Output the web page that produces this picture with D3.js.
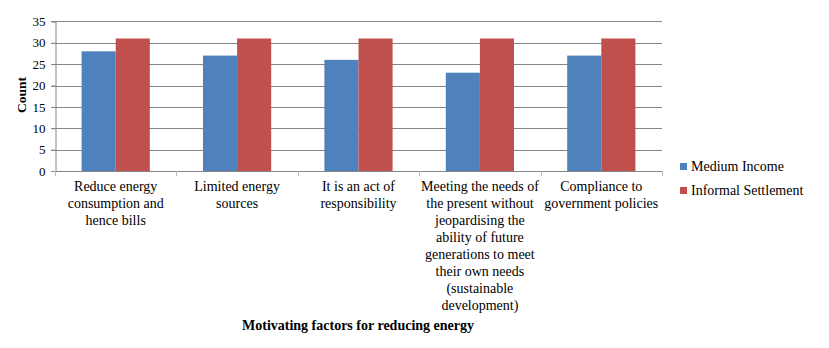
<!DOCTYPE html>
<html><head><meta charset="utf-8">
<script src="https://cdn.jsdelivr.net/npm/d3@7"></script>
<style>body{margin:0;background:#fff}</style>
</head><body>
<svg id="c" width="829" height="348"></svg>
<script>
const categories = [
  ["Reduce energy","consumption and","hence bills"],
  ["Limited energy","sources"],
  ["It is an act of","responsibility"],
  ["Meeting the needs of","the present without","jeopardising the","ability of future","generations to meet","their own needs","(sustainable","development)"],
  ["Compliance to","government policies"]
];
const seriesNames = ["Medium Income","Informal Settlement"];
const mediumIncome = [28,27,26,23,27];
const informalSettlement = [31,31,31,31,31];
const yTicks = [0,5,10,15,20,25,30,35];
const colors = ["#4F81BD","#C0504D"];

const svg = d3.select("#c");
const m = {l:55, r:662, t:21.4, b:171};
const font = '"Liberation Serif","Times New Roman",serif';
const idx = categories.map((d,i)=>i);
const x = d3.scaleBand().domain(idx).range([m.l,m.r]).paddingInner(0).paddingOuter(0);
const y = d3.scaleLinear().domain([0,35]).range([m.b,m.t]);
const xs = d3.scaleBand().domain([0,1]).range([0,x.bandwidth()]).paddingInner(0).paddingOuter(0.78);

// gridlines
svg.append("g").selectAll("line").data(yTicks.filter(t=>t>0)).join("line")
  .attr("x1",m.l-4).attr("x2",m.r).attr("y1",d=>Math.round(y(d))+0.5).attr("y2",d=>Math.round(y(d))+0.5)
  .attr("stroke","#868686").attr("stroke-width",1);

// y axis
const ya = svg.append("g").attr("transform",`translate(${m.l+0.5},0)`)
  .call(d3.axisLeft(y).tickValues(yTicks).tickSize(4).tickPadding(6));
ya.attr("font-family",null);
ya.select(".domain").attr("stroke","#868686");
ya.selectAll(".tick line").attr("stroke","#868686");
ya.selectAll("text").style("font-family",font).style("font-size","13px").attr("fill","#000");

// bars
const data = [mediumIncome, informalSettlement];
data.forEach((vals,s)=>{
  svg.append("g").selectAll("rect").data(vals).join("rect")
    .attr("x",(d,i)=>x(i)+xs(s)).attr("width",xs.bandwidth())
    .attr("y",d=>y(d)).attr("height",d=>y(0)-y(d))
    .attr("fill",colors[s]);
});

// x axis
svg.append("line").attr("x1",m.l).attr("x2",m.r).attr("y1",m.b+0.5).attr("y2",m.b+0.5).attr("stroke","#868686");
svg.append("g").selectAll("line").data(d3.range(categories.length+1)).join("line")
  .attr("x1",d=>Math.round(m.l+d*x.bandwidth())+0.5).attr("x2",d=>Math.round(m.l+d*x.bandwidth())+0.5)
  .attr("y1",m.b).attr("y2",m.b+5).attr("stroke","#bbbbbb");

// category labels
const cl = svg.append("g").selectAll("text").data(categories).join("text")
  .style("font-family",font).style("font-size","14px").attr("text-anchor","middle").attr("fill","#000")
  .attr("transform",(d,i)=>`translate(${x(i)+x.bandwidth()/2},191)`);
cl.selectAll("tspan").data(d=>d).join("tspan").attr("x",0).attr("y",(d,j)=>j*17).text(d=>d);

// axis titles
svg.append("text").attr("transform","translate(26,95) rotate(-90)").attr("text-anchor","middle")
  .style("font-family",font).attr("font-weight","bold").style("font-size","13.5px").text("Count");
svg.append("text").attr("x",358).attr("y",330).attr("text-anchor","middle")
  .style("font-family",font).attr("font-weight","bold").style("font-size","14px").text("Motivating factors for reducing energy");

// legend
const lg = svg.append("g").selectAll("g").data(seriesNames).join("g")
  .attr("transform",(d,i)=>`translate(680,${163+i*24})`);
lg.append("rect").attr("width",7).attr("height",7).attr("fill",(d,i)=>colors[i]);
lg.append("text").attr("x",11).attr("y",7.5).style("font-family",font).style("font-size","14px").text(d=>d);
</script>
</body></html>
